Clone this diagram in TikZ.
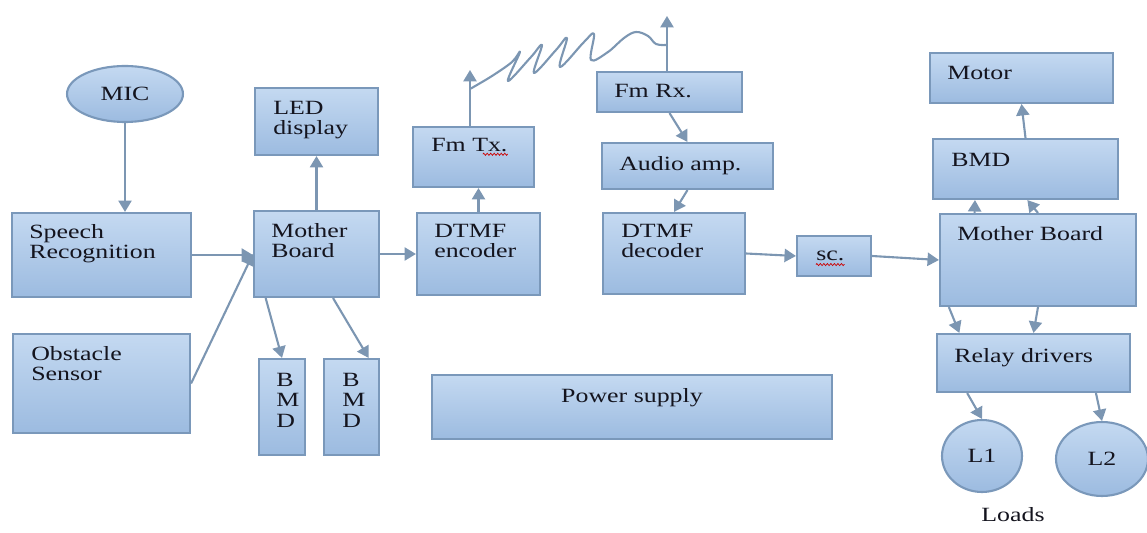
\documentclass[tikz,border=0pt]{standalone}
\usepackage{fontspec}
\setmainfont{Liberation Serif}[FakeStretch=1.28]
\usetikzlibrary{arrows.meta, shapes.geometric, fit, calc, decorations.pathmorphing}

\definecolor{boxtop}{RGB}{196,217,241}
\definecolor{boxbot}{RGB}{156,187,224}
\definecolor{boxline}{RGB}{122,152,186}
\definecolor{wire}{RGB}{124,150,178}
\definecolor{ink}{RGB}{20,20,30}

\tikzset{
  blk/.style={draw=boxline, line width=1.2pt, top color=boxtop, bottom color=boxbot, inner sep=0pt},
  oval/.style={blk, ellipse, text=ink, font=\fontsize{11.5}{12}\selectfont},
  lbl/.style={anchor=north west, inner sep=0pt, yshift=-1.2pt, align=left, text=ink, font=\fontsize{11.5}{11.5}\selectfont},
  wireline/.style={draw=wire, line width=1.2pt},
  arr/.style={wireline, -{Triangle[width=7.5pt,length=6.5pt]}},
  squiggle/.style={draw=red!80!black, line width=0.4pt, decorate, decoration={zigzag, segment length=2pt, amplitude=0.6pt}}
}

\begin{document}
\begin{tikzpicture}[x=0.02cm, y=-0.02cm]
  \useasboundingbox (0,0) rectangle (1147,533);

  % transmitter side
  \node[oval, minimum width=2.32cm, minimum height=1.12cm] (mic) at (125,94) {MIC};
  \node[blk, fit={(12,213) (191,297)}] (speech) {};
  \node[lbl] (speechT) at ([shift={(18,10)}]speech.north west) {Speech\\Recognition};
  \node[blk, fit={(13,334) (190,433)}] (obst) {};
  \node[lbl] (obstT) at ([shift={(19,11)}]obst.north west) {Obstacle\\Sensor};
  \node[blk, fit={(254,211) (379,297)}] (mb) {};
  \node[lbl] (mbT) at ([shift={(18,11)}]mb.north west) {Mother\\Board};
  \node[blk, fit={(255,88) (378,155)}] (led) {};
  \node[lbl] (ledT) at ([shift={(19,12)}]led.north west) {LED\\display};
  \node[blk, fit={(259,359) (305,455)}] (bmdA) {};
  \node[lbl] (bmdAT) at ([shift={(18,13)}]bmdA.north west) {B\\M\\D};
  \node[blk, fit={(324,359) (379,455)}] (bmdB) {};
  \node[lbl] (bmdBT) at ([shift={(19,13)}]bmdB.north west) {B\\M\\D};
  \node[blk, fit={(417,213) (540,295)}] (enc) {};
  \node[lbl] (encT) at ([shift={(18,10)}]enc.north west) {DTMF\\encoder};
  \node[blk, fit={(413,127) (534,187)}] (ftx) {};
  \node[lbl] (ftxT) at ([shift={(19,10)}]ftx.north west) {Fm Tx.};
  \coordinate (txant) at (470,70);

  % receiver side
  \node[blk, fit={(597,72) (742,112)}] (frx) {};
  \node[lbl] (frxT) at ([shift={(18,11)}]frx.north west) {Fm Rx.};
  \coordinate (rxant) at (667,16);
  \node[blk, fit={(602,143) (773,189)}] (amp) {};
  \node[lbl] (ampT) at ([shift={(18,12)}]amp.north west) {Audio amp.};
  \node[blk, fit={(603,213) (745,294)}] (dec) {};
  \node[lbl] (decT) at ([shift={(19,10)}]dec.north west) {DTMF\\decoder};
  \node[blk, fit={(797,236) (871,276)}] (sc) {};
  \node[lbl] (scT) at ([shift={(20,14)}]sc.north west) {sc.};
  \node[blk, fit={(940,214) (1136,306)}] (mbR) {};
  \node[lbl] (mbRT) at ([shift={(18,11)}]mbR.north west) {Mother Board};
  \node[blk, fit={(933,139) (1118,199)}] (bmdR) {};
  \node[lbl] (bmdRT) at ([shift={(19,13)}]bmdR.north west) {BMD};
  \node[blk, fit={(930,53) (1113,103)}] (motor) {};
  \node[lbl] (motorT) at ([shift={(18,12)}]motor.north west) {Motor};
  \node[blk, fit={(937,334) (1130,392)}] (relay) {};
  \node[lbl] (relayT) at ([shift={(18,13)}]relay.north west) {Relay drivers};
  \node[oval, minimum width=1.6cm, minimum height=1.44cm] (loadA) at (982,456) {L1};
  \node[oval, minimum width=1.84cm, minimum height=1.48cm] (loadB) at (1102,459) {L2};
  \node[text=ink, font=\fontsize{11.5}{12}\selectfont] (loads) at (1013,515) {Loads};

  % power
  \node[blk, fit={(432,375) (832,439)}] (psu) {};
  \node[lbl, anchor=north] (psuT) at ([shift={(0,12)}]psu.north) {Power supply};

  % connections
  \draw[arr] (mic.south) -- (mic.south |- speech.north);
  \draw[arr] (speech.east) -- (speech.east -| mb.west);
  \draw[arr] (obst.east) -- (mb.west);
  \draw[arr] (mb.north) -- (led.south);
  \draw[arr] ($(mb.south west)!.1!(mb.south east)$) -- (bmdA.north);
  \draw[arr] ($(mb.south west)!.63!(mb.south east)$) -- ($(bmdB.north west)!.8!(bmdB.north east)$);
  \draw[arr] (mb.east) -- (enc.west);
  \draw[arr] (enc.north) -- (enc.north |- ftx.south);
  \draw[arr] (ftx.north -| txant) -- (txant);
  \draw[wireline, line join=round] plot[smooth, tension=.6] coordinates {
    (470,89) (492,76) (512,62) (520,52) (508,81) (531,57) (542,45) (534,73)
    (556,50) (567,38) (560,67) (584,42) (594,34) (591,60) (608,52) (624,38)
    (636,32) (648,36) (656,44) (667,45)};
  \draw[arr] (frx.north -| rxant) -- (rxant);
  \draw[arr] (frx.south) -- (amp.north);
  \draw[arr] (amp.south) -- (dec.north);
  \draw[arr] (dec.east) -- (sc.west);
  \draw[arr] (sc.east) -- (mbR.west);
  \draw[arr] ($(mbR.north west)!.18!(mbR.north east)$) -- ($(bmdR.south west)!.23!(bmdR.south east)$);
  \draw[arr] ($(mbR.north west)!.5!(mbR.north east)$) -- ($(bmdR.south west)!.51!(bmdR.south east)$);
  \draw[arr] (bmdR.north) -- (motor.south);
  \draw[arr] ($(mbR.south west)!.05!(mbR.south east)$) -- ($(relay.north west)!.12!(relay.north east)$);
  \draw[arr] (mbR.south) -- (relay.north);
  \draw[arr] ($(relay.south west)!.16!(relay.south east)$) -- (loadA.north);
  \draw[arr] ($(relay.south west)!.82!(relay.south east)$) -- (loadB.north);

  % spell-check marks
  \draw[squiggle] ($(ftxT.south east)+(-25,2)$) -- ($(ftxT.south east)+(0,2)$);
  \draw[squiggle] ($(scT.south west)+(0,3)$) -- ($(scT.south east)+(0,3)$);
\end{tikzpicture}
\end{document}
